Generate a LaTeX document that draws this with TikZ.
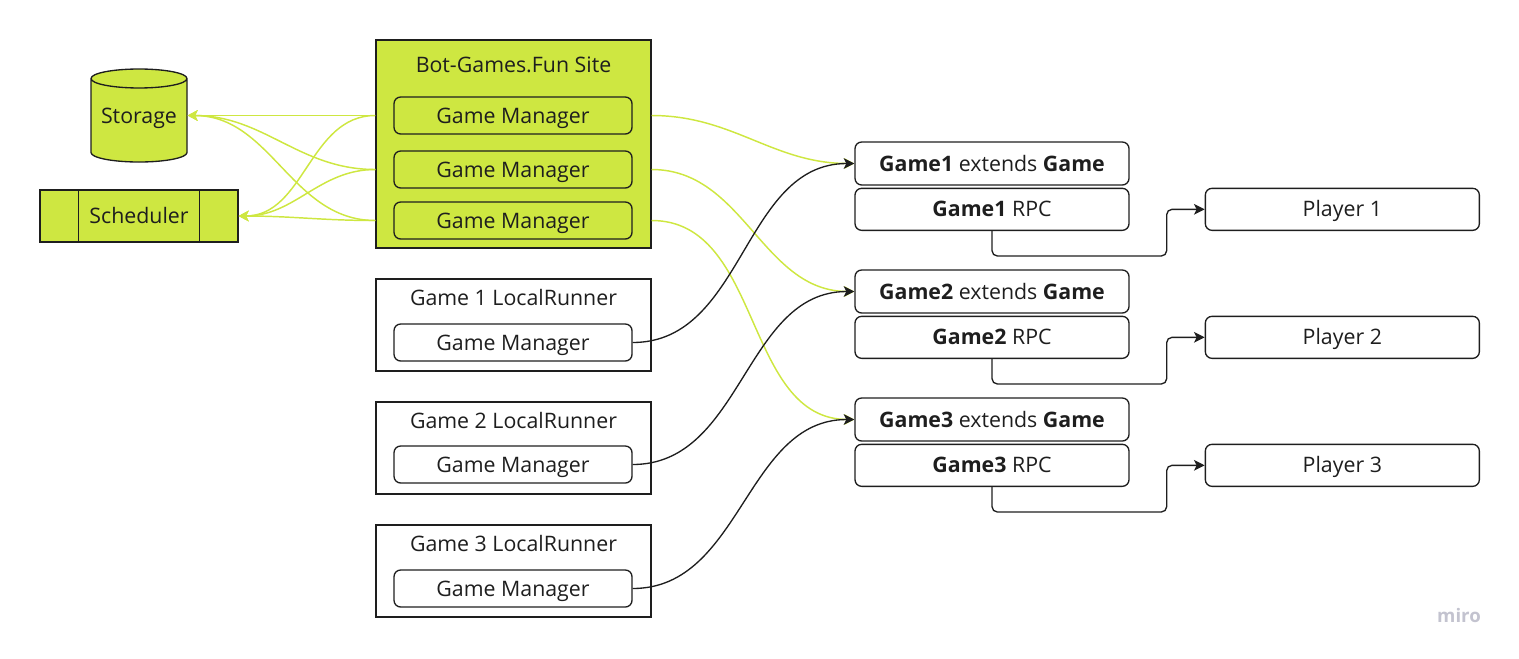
\documentclass[tikz,border=0pt]{standalone}
\usepackage{fontspec}
\setmainfont{Open Sans}
\usetikzlibrary{shapes.geometric,arrows.meta,positioning,calc}
\definecolor{lime}{HTML}{CEE741}
\definecolor{ink}{HTML}{1E1E1E}
\definecolor{logo}{HTML}{C3C3CF}
\newcommand{\px}{0.75pt}

\begin{document}
\begin{tikzpicture}[x=0.75pt, y=-0.75pt,
    every node/.style={font=\fontsize{16}{19}\selectfont, text=ink, text height=11.4pt, text depth=0pt},
    panel/.style={draw=ink, line width=1pt, minimum width=275*\px, inner sep=0pt},
    gm/.style={draw=ink, rounded corners=5pt, line width=1pt, minimum width=238*\px, minimum height=37*\px, inner sep=0pt},
    game/.style={draw=ink, rounded corners=5pt, line width=1pt, minimum width=274*\px, minimum height=42*\px, inner sep=0pt},
    feed/.style={draw=lime, line width=1.1pt, -{Stealth[length=7.5pt, width=8pt, inset=2pt]}},
    call/.style={draw=ink, line width=1pt, -{Stealth[length=8pt, width=8pt, inset=2pt]}}]
    \useasboundingbox (0,0) rectangle (1519,658);

    % storage and scheduler
    \node (store) [cylinder, shape border rotate=90, aspect=0.25, draw=ink, fill=lime, line width=1pt, minimum width=96*\px, minimum height=93*\px, inner sep=0pt, text depth=7.5pt, anchor=shape center] at (139,115.5) {Storage};
    \node (sched) [draw=ink, fill=lime, line width=1pt, minimum width=198*\px, minimum height=52*\px, inner sep=0pt] at (139,216) {Scheduler};
    \draw[ink, line width=1pt] ([xshift=29.25pt]sched.north west) -- ([xshift=29.25pt]sched.south west);
    \draw[ink, line width=1pt] ([xshift=-29.25pt]sched.north east) -- ([xshift=-29.25pt]sched.south east);

    % site
    \node (site) [panel, fill=lime, minimum height=208*\px] at (513.5,144) {};
    \node (sitetitle) at (513.5,65) {Bot-Games.Fun Site};
    \node (gm1) [gm, fill=lime] at (513,115.5) {Game Manager};
    \node (gm2) [gm, fill=lime] at (513,169.5) {Game Manager};
    \node (gm3) [gm, fill=lime] at (513,220.5) {Game Manager};

    % local runners
    \node (run1) [panel, minimum height=92*\px] at (513.5,325) {};
    \node (run1title) at (513.5,298) {Game 1 LocalRunner};
    \node (lgm1) [gm] at (513,342.5) {Game Manager};
    \node (run2) [panel, minimum height=92*\px] at (513.5,448) {};
    \node (run2title) at (513.5,421) {Game 2 LocalRunner};
    \node (lgm2) [gm] at (513,464.5) {Game Manager};
    \node (run3) [panel, minimum height=92*\px] at (513.5,571) {};
    \node (run3title) at (513.5,544) {Game 3 LocalRunner};
    \node (lgm3) [gm] at (513,588.5) {Game Manager};

    % games
    \node (ext1) [game, minimum height=43*\px] at (992,163.5) {\textbf{Game1} extends \textbf{Game}};
    \node (rpc1) [game, below=1.5pt of ext1] {\textbf{Game1} RPC};
    \node (p1) [game, right=56.25pt of rpc1] {Player 1};
    \node (ext2) [game, minimum height=43*\px] at (992,291.5) {\textbf{Game2} extends \textbf{Game}};
    \node (rpc2) [game, below=1.5pt of ext2] {\textbf{Game2} RPC};
    \node (p2) [game, right=56.25pt of rpc2] {Player 2};
    \node (ext3) [game, minimum height=43*\px] at (992,419.5) {\textbf{Game3} extends \textbf{Game}};
    \node (rpc3) [game, below=1.5pt of ext3] {\textbf{Game3} RPC};
    \node (p3) [game, right=56.25pt of rpc3] {Player 3};

    \node (miro) [text=logo, font=\fontsize{14}{16}\selectfont\bfseries] at (1459,615) {miro};

    % site links
    \foreach \g in {gm1,gm2,gm3} {
        \draw[feed] (\g -| site.west) to[out=180, in=0] (store.shape center -| store.east);
        \draw[feed] (\g -| site.west) to[out=180, in=0] (sched.east);
    }
    \draw[feed] (gm1 -| site.east) to[out=0, in=180] (ext1.west);
    \draw[feed] (gm2 -| site.east) to[out=0, in=180] (ext2.west);
    \draw[feed] (gm3 -| site.east) to[out=0, in=180] (ext3.west);

    % local links
    \draw[call] (lgm1.east) to[out=0, in=180] (ext1.west);
    \draw[call] (lgm2.east) to[out=0, in=180] (ext2.west);
    \draw[call] (lgm3.east) to[out=0, in=180] (ext3.west);

    % players
    \draw[call, rounded corners=4pt] (rpc1.south) -- ++(0,25) -| ([xshift=-28.5pt]p1.west) -- (p1.west);
    \draw[call, rounded corners=4pt] (rpc2.south) -- ++(0,25) -| ([xshift=-28.5pt]p2.west) -- (p2.west);
    \draw[call, rounded corners=4pt] (rpc3.south) -- ++(0,25) -| ([xshift=-28.5pt]p3.west) -- (p3.west);
\end{tikzpicture}
\end{document}
